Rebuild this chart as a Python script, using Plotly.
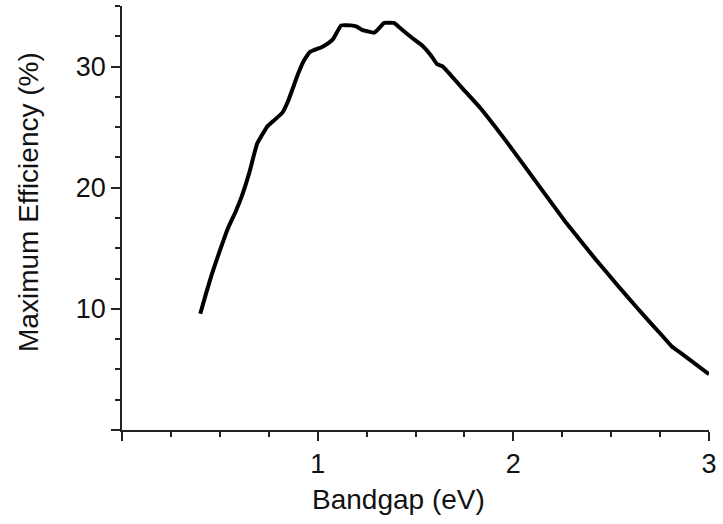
import plotly.graph_objects as go

# Bandgap (eV) vs. maximum efficiency (%)
bandgap = [0.40, 0.43, 0.46, 0.50, 0.54, 0.58, 0.61, 0.65, 0.69, 0.74, 0.78, 0.82,
           0.85, 0.90, 0.93, 0.96, 1.02, 1.06, 1.08, 1.12, 1.17, 1.20, 1.23, 1.29,
           1.31, 1.34, 1.39, 1.42, 1.48, 1.53, 1.58, 1.61, 1.64, 1.68, 1.74, 1.83,
           1.97, 2.12, 2.27, 2.42, 2.54, 2.61, 2.67, 2.76, 2.81, 2.86, 3.00]
efficiency = [9.6, 11.3, 12.9, 14.8, 16.6, 18.0, 19.2, 21.2, 23.6, 25.0, 25.6, 26.2,
              27.2, 29.4, 30.5, 31.2, 31.6, 32.0, 32.3, 33.4, 33.4, 33.3, 33.0, 32.8,
              33.1, 33.6, 33.6, 33.2, 32.4, 31.8, 30.9, 30.2, 30.0, 29.3, 28.2, 26.6,
              23.7, 20.4, 17.1, 14.1, 11.8, 10.5, 9.4, 7.8, 6.9, 6.3, 4.6]

x_tickvals = [0, 1, 2, 3]
x_ticktext = ["", "1", "2", "3"]
y_tickvals = [0, 10, 20, 30]
y_ticktext = ["", "10", "20", "30"]

FONT = "Liberation Sans, Arial, sans-serif"
AXIS_COLOR = "#222222"

fig = go.Figure()
fig.add_trace(go.Scatter(
    x=bandgap, y=efficiency, mode="lines",
    line=dict(color="black", width=4, shape="spline", smoothing=0.3),
    showlegend=False,
))

common = dict(
    showgrid=False, zeroline=False, showline=True,
    linecolor=AXIS_COLOR, linewidth=1.5,
    ticks="outside", ticklen=9, tickwidth=1.5, tickcolor=AXIS_COLOR,
    tickfont=dict(family=FONT, size=27, color="#111111"),
)

fig.update_xaxes(
    range=[0, 3], tickvals=x_tickvals, ticktext=x_ticktext,
    minor=dict(dtick=0.25, tick0=0, ticks="outside", ticklen=5,
               tickwidth=1.5, tickcolor=AXIS_COLOR),
    **common,
)
fig.update_yaxes(
    range=[0, 35], tickvals=y_tickvals, ticktext=y_ticktext,
    minor=dict(dtick=2.5, tick0=0, ticks="outside", ticklen=5,
               tickwidth=1.5, tickcolor=AXIS_COLOR),
    **common,
)

fig.add_annotation(
    text="Bandgap (eV)", xref="paper", yref="paper",
    x=(401 - 122) / 593, y=(430 - 500) / 424,
    xanchor="center", yanchor="middle", showarrow=False,
    font=dict(family=FONT, size=28, color="#111111"),
)
fig.add_annotation(
    text="Maximum Efficiency (%)", xref="paper", yref="paper",
    x=(27 - 122) / 593, y=(430 - 202) / 424, textangle=-90,
    xanchor="center", yanchor="middle", showarrow=False,
    font=dict(family=FONT, size=28, color="#111111"),
)

fig.update_layout(
    width=723, height=524,
    margin=dict(l=122, r=8, t=6, b=94, pad=0),
    paper_bgcolor="white", plot_bgcolor="white",
)

fig.write_html("out.html")
